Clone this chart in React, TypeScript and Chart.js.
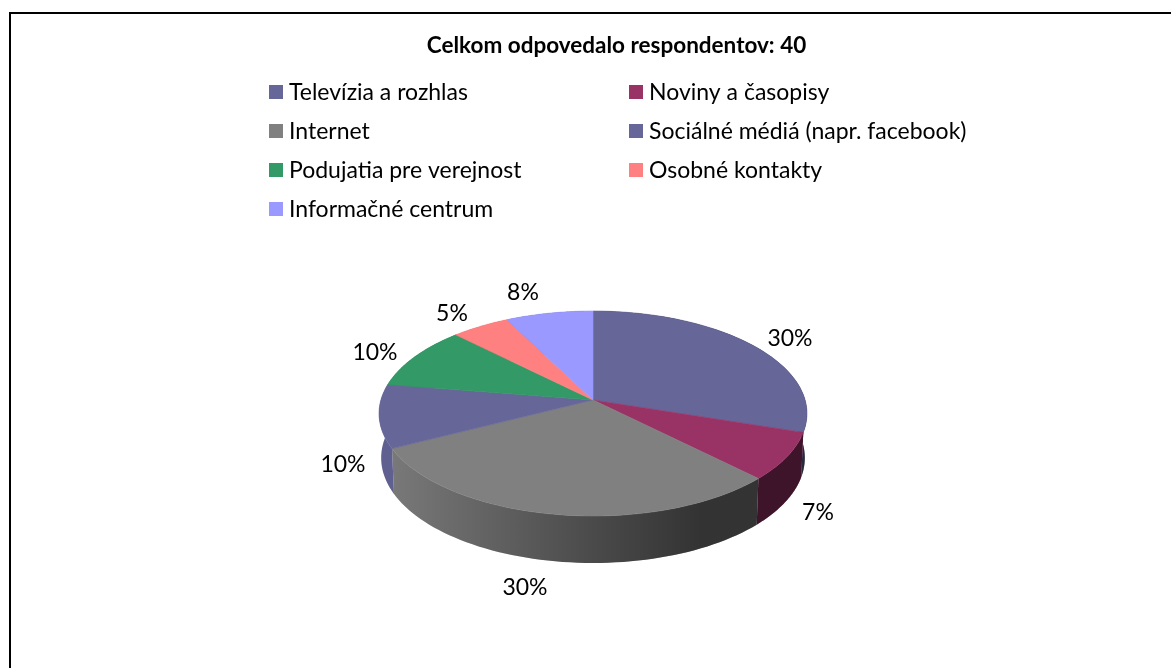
import React, { useEffect, useRef } from "react";
import { Chart, registerables } from "chart.js";

Chart.register(...registerables);

const categories = [
  "Televízia a rozhlas",
  "Noviny a časopisy",
  "Internet",
  "Sociálné médiá (napr. facebook)",
  "Podujatia pre verejnost",
  "Osobné kontakty",
  "Informačné centrum",
];
const responses = [12, 3, 12, 4, 4, 2, 3];
const percentLabels = ["30%", "7%", "30%", "10%", "10%", "5%", "8%"];
const colors = ["#666699", "#993366", "#808080", "#666699", "#339966", "#FF8080", "#9999FF"];
const titleText = "Celkom odpovedalo respondentov: 40";

// layout of the 3D disc and its furniture
const FONT = "Lato, Carlito, sans-serif";
const APEX = { x: 593, y: 400 };
const RX = 212.1;
const RY = 100.7;
const PERSP = 0.1317;
const labelAnchors = [
  [790, 339], [818, 513], [525, 588], [343, 465], [375, 353], [452, 314], [523, 293],
];

function top(a: number) {
  const u = Math.cos(a), v = Math.sin(a), d = 1 - PERSP * v;
  return { x: APEX.x + (RX * u) / d, y: APEX.y + (RY * v) / d, v };
}
function bottom(a: number) {
  const p = top(a);
  return { x: APEX.x + (p.x - APEX.x) * 0.99, y: p.y + 44 + 3 * p.v };
}

const pie3d = {
  id: "pie3d",
  beforeDatasetsDraw(chart: any) {
    const ctx: CanvasRenderingContext2D = chart.ctx;
    const meta = chart.getDatasetMeta(0);
    const bg = chart.data.datasets[0].backgroundColor;
    const steps = 60;
    ctx.save();
    ctx.lineWidth = 0.6;
    ctx.lineJoin = "round";
    // side walls
    meta.data.forEach((arc: any, i: number) => {
      const path = () => {
        ctx.beginPath();
        for (let s = 0; s <= steps; s++) {
          const p = top(arc.startAngle + ((arc.endAngle - arc.startAngle) * s) / steps);
          s ? ctx.lineTo(p.x, p.y) : ctx.moveTo(p.x, p.y);
        }
        for (let s = steps; s >= 0; s--) {
          const p = bottom(arc.startAngle + ((arc.endAngle - arc.startAngle) * s) / steps);
          ctx.lineTo(p.x, p.y);
        }
        ctx.closePath();
      };
      path();
      ctx.fillStyle = bg[i];
      ctx.fill();
      const g = ctx.createLinearGradient(APEX.x - 214, 0, APEX.x + 214, 0);
      g.addColorStop(0, "rgba(0,0,0,0.06)");
      g.addColorStop(0.03, "rgba(0,0,0,0.06)");
      g.addColorStop(0.5, "rgba(0,0,0,0.42)");
      g.addColorStop(0.75, "rgba(0,0,0,0.6)");
      g.addColorStop(1, "rgba(0,0,0,0.6)");
      path();
      ctx.fillStyle = g;
      ctx.fill();
    });
    // top face
    meta.data.forEach((arc: any, i: number) => {
      ctx.beginPath();
      ctx.moveTo(APEX.x, APEX.y);
      for (let s = 0; s <= steps; s++) {
        const p = top(arc.startAngle + ((arc.endAngle - arc.startAngle) * s) / steps);
        ctx.lineTo(p.x, p.y);
      }
      ctx.closePath();
      ctx.fillStyle = bg[i];
      ctx.strokeStyle = bg[i];
      ctx.fill();
      ctx.stroke();
    });
    // value labels
    ctx.fillStyle = "#000";
    ctx.font = `23px ${FONT}`;
    ctx.textAlign = "center";
    ctx.textBaseline = "middle";
    percentLabels.forEach((t, i) => ctx.fillText(t, labelAnchors[i][0], labelAnchors[i][1]));
    ctx.restore();
    return false;
  },
};

const legend2col = {
  id: "legend2col",
  afterDraw(chart: any) {
    const ctx: CanvasRenderingContext2D = chart.ctx;
    const bg = chart.data.datasets[0].backgroundColor;
    ctx.save();
    ctx.font = `23px ${FONT}`;
    ctx.textBaseline = "middle";
    ctx.textAlign = "left";
    chart.data.labels.forEach((t: string, i: number) => {
      const x = i % 2 ? 629 : 269;
      const y = 92 + 39 * Math.floor(i / 2);
      ctx.fillStyle = bg[i];
      ctx.fillRect(x, y - 7, 14, 14);
      ctx.fillStyle = "#000";
      ctx.fillText(t, x + 20, y + 1);
    });
    ctx.restore();
  },
};

export default function App() {
  const ref = useRef<HTMLCanvasElement>(null);
  useEffect(() => {
    document.body.style.margin = "0";
    const chart = new Chart(ref.current!, {
      type: "pie",
      data: {
        labels: categories,
        datasets: [{ data: responses, backgroundColor: colors, borderWidth: 0 }],
      },
      plugins: [pie3d, legend2col],
      options: {
        responsive: false,
        animation: false,
        devicePixelRatio: 1,
        layout: { padding: { left: 62, top: 32 } },
        plugins: {
          legend: { display: false },
          tooltip: { enabled: false },
          title: {
            display: true,
            text: titleText,
            color: "#000",
            font: { family: FONT, size: 22.5, weight: "bold" },
            padding: 0,
          },
        },
      },
    } as any);
    return () => chart.destroy();
  }, []);
  return (
    <div style={{ position: "relative", width: 1171, height: 668, background: "#fff", overflow: "hidden" }}>
      <canvas ref={ref} width={1171} height={668} style={{ display: "block" }} />
      <div
        style={{
          position: "absolute",
          left: 9,
          top: 12,
          width: 1200,
          height: 700,
          borderLeft: "2px solid #000",
          borderTop: "2px solid #000",
          boxSizing: "border-box",
        }}
      />
    </div>
  );
}
